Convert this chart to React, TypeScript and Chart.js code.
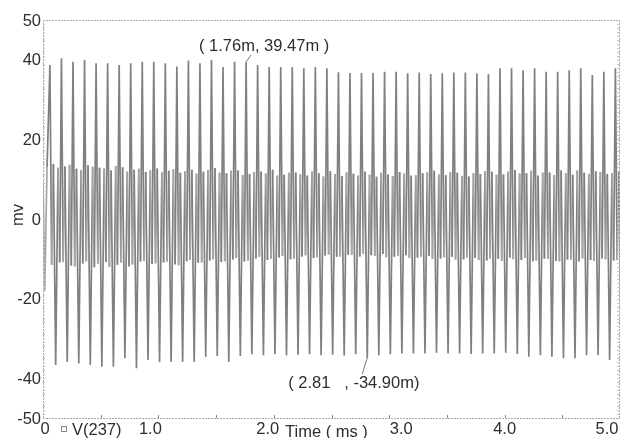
import React, { useEffect, useRef } from "react";
import { Chart, registerables } from "chart.js";
Chart.register(...registerables);

const xTickValues = [0, 1, 2, 3, 4, 5];
const xTickLabels = ["0", "1.0", "2.0", "3.0", "4.0", "5.0"];
const yTickValues = [50, 40, 20, 0, -20, -40, -50];
const yTickLabels = ["50", "40", "20", "0", "-20", "-40", "-50"];
const seriesName = "V(237)";
const xTitle = "Time ( ms )";
const yTitle = "mv";
const peakNote = "( 1.76m, 39.47m )";
const troughNote = "( 2.81   , -34.90m)";
const peakNoteTime = 1.76;
const peakNoteValue = 39.47;
const troughNoteTime = 2.81;
const troughNoteValue = -34.9;

const firstPeakTime = 0.06;
const period = 0.1;
const startTimes = [0, 0.015, 0.035];
const startValues = [9.5, -18, 13];

const peaks = [38.7, 40.4, 39.5, 40.0, 39.1, 39.1, 38.7, 39.1, 39.5, 39.5, 39.1, 38.3, 39.8, 39.1, 40.0, 38.2, 39.5, 39.47, 38.7, 38.2, 38.2, 38.2, 37.9, 38.2, 37.9, 36.9, 36.7, 36.7, 36.7, 37.0, 37.0, 36.6, 36.8, 36.4, 36.6, 36.8, 36.8, 36.6, 36.4, 37.9, 37.9, 37.4, 37.9, 37.0, 37.0, 37.4, 37.9, 36.2, 37.0, 37.9];
const troughs = [-36.7, -35.9, -36.3, -36.7, -37.1, -37.1, -35.0, -37.5, -35.4, -35.9, -35.9, -35.9, -35.9, -34.6, -34.4, -35.9, -34.4, -34.0, -34.2, -34.0, -34.3, -34.1, -34.0, -34.2, -34.1, -34.3, -34.0, -34.9, -34.2, -34.0, -33.8, -33.8, -33.8, -33.6, -33.8, -33.8, -33.9, -33.8, -33.8, -33.6, -33.9, -34.6, -34.2, -34.6, -35.0, -35.0, -34.2, -34.2, -35.4, -34.0];
const lowAfterPeak = [-11.5, -10.8, -11.9, -10.6, -11.2, -12.0, -10.9, -11.4, -10.5, -11.1, -10.7, -11.6, -10.3, -10.9, -10.1, -10.6, -9.8, -10.4, -9.5, -10.0, -9.3, -9.9, -9.1, -9.6, -8.9, -9.4, -9.0, -8.7, -9.3, -9.6, -9.2, -9.8, -9.4, -10.0, -9.6, -10.2, -9.7, -10.3, -9.9, -10.5, -10.1, -9.8, -10.4, -10.0, -10.6, -10.2, -9.9, -10.5, -10.1, -10.3];
const highBeforeTrough = [13.8, 13.2, 12.6, 13.5, 12.9, 12.2, 13.0, 12.4, 11.8, 12.7, 12.1, 11.6, 12.4, 11.9, 12.8, 11.5, 12.2, 11.3, 11.9, 12.4, 11.1, 11.7, 10.9, 11.5, 12.0, 10.8, 11.4, 11.9, 10.6, 11.2, 11.8, 10.9, 11.5, 12.1, 11.0, 11.6, 10.7, 11.3, 11.9, 11.2, 12.3, 11.5, 10.9, 11.7, 12.2, 11.1, 11.6, 12.0, 11.3, 11.8];
const highAfterTrough = [12.9, 13.6, 12.3, 13.1, 12.7, 13.3, 11.9, 12.6, 12.2, 11.7, 12.5, 12.0, 11.4, 12.3, 11.6, 12.1, 11.0, 11.8, 11.4, 10.9, 11.6, 11.2, 11.9, 10.7, 11.3, 11.7, 10.9, 11.1, 11.6, 10.8, 11.4, 11.0, 11.7, 11.2, 11.8, 10.8, 11.5, 12.0, 11.1, 11.9, 11.4, 12.1, 11.6, 11.0, 11.5, 12.2, 11.3, 11.8, 11.5, 11.0];
const lowBeforePeak = [-10.9, -11.7, -11.2, -12.1, -10.8, -11.5, -11.9, -10.7, -11.3, -10.9, -11.4, -10.6, -11.0, -10.4, -10.8, -10.2, -10.7, -9.9, -10.3, -9.7, -10.1, -9.4, -9.8, -9.2, -9.5, -9.0, -9.4, -9.1, -8.8, -9.5, -9.1, -9.7, -9.3, -9.9, -9.5, -10.1, -9.8, -10.4, -10.0, -9.7, -10.3, -10.6, -10.0, -10.5, -10.2, -10.7, -10.3, -9.9, -10.4, -10.2];

const labelFont = '16.5px "Liberation Sans", Arial, sans-serif';
const textColor = "#2e2e2e";
const frameColor = "#a8a8a8";
const spikeColor = "#808080";
const bandColor = "#a6a6a6";
const xLabelNudge = [2, -8, -6, 12, 0, -13];

function buildPoints() {
  const pts: { x: number; y: number }[] = [];
  startTimes.forEach((t, i) => pts.push({ x: t, y: startValues[i] }));
  peaks.forEach((p, k) => {
    const t0 = firstPeakTime + k * period;
    pts.push({ x: t0, y: p });
    pts.push({ x: t0 + 0.015, y: lowAfterPeak[k] });
    pts.push({ x: t0 + 0.03, y: highBeforeTrough[k] });
    pts.push({ x: t0 + 0.05, y: troughs[k] });
    if (k < peaks.length - 1) {
      pts.push({ x: t0 + 0.07, y: highAfterTrough[k] });
      pts.push({ x: t0 + 0.085, y: lowBeforePeak[k] });
    }
  });
  return pts;
}

const decorPlugin = {
  id: "decor",
  afterDraw(chart: any) {
    const { ctx, chartArea: a, scales } = chart;
    const xs = scales.x;
    const ys = scales.y;
    ctx.save();
    ctx.strokeStyle = frameColor;
    ctx.lineWidth = 1;
    ctx.setLineDash([2, 1]);
    ctx.beginPath();
    ctx.moveTo(a.left, a.top + 0.5);
    ctx.lineTo(a.right, a.top + 0.5);
    ctx.moveTo(a.left, a.bottom + 0.5);
    ctx.lineTo(a.right, a.bottom + 0.5);
    ctx.moveTo(a.left + 0.5, a.top);
    ctx.lineTo(a.left + 0.5, a.bottom);
    ctx.moveTo(a.right - 0.5, a.top);
    ctx.lineTo(a.right - 0.5, a.bottom);
    ctx.stroke();
    ctx.setLineDash([]);
    ctx.strokeStyle = "#c4c4c4";
    ctx.beginPath();
    for (let v = -50; v <= 50; v += 1) {
      const y = Math.round(ys.getPixelForValue(v)) + 0.5;
      ctx.moveTo(a.left, y);
      ctx.lineTo(a.left + 2, y);
      ctx.moveTo(a.right - 3, y);
      ctx.lineTo(a.right, y);
    }
    ctx.stroke();
    ctx.strokeStyle = "#888";
    ctx.beginPath();
    for (let v = 0.5; v < 5; v += 0.5) {
      const x = Math.round(xs.getPixelForValue(v)) + 0.5;
      ctx.moveTo(x, a.bottom);
      ctx.lineTo(x, a.bottom - 3);
    }
    ctx.stroke();

    ctx.fillStyle = textColor;
    ctx.font = labelFont;
    ctx.textAlign = "right";
    ctx.textBaseline = "middle";
    yTickValues.forEach((v, i) => {
      ctx.fillText(yTickLabels[i], a.left - 2, ys.getPixelForValue(v) + 1);
    });
    ctx.textAlign = "center";
    xTickValues.forEach((v, i) => {
      ctx.fillText(xTickLabels[i], xs.getPixelForValue(v) + xLabelNudge[i], a.bottom + 11);
    });
    ctx.strokeStyle = "#888";
    ctx.strokeRect(61.5, a.bottom + 8.5, 5, 5);
    ctx.textAlign = "left";
    ctx.fillText(seriesName, 72, a.bottom + 12);
    ctx.fillText(xTitle, 285, a.bottom + 14);
    ctx.save();
    ctx.translate(18, ys.getPixelForValue(1));
    ctx.rotate(-Math.PI / 2);
    ctx.textAlign = "center";
    ctx.fillText(yTitle, 0, 0);
    ctx.restore();
    const px = xs.getPixelForValue(peakNoteTime);
    const py = ys.getPixelForValue(peakNoteValue);
    ctx.strokeStyle = "#777";
    ctx.beginPath();
    ctx.moveTo(px + 5, py - 7);
    ctx.lineTo(px, py);
    ctx.stroke();
    ctx.textAlign = "center";
    ctx.fillText(peakNote, px + 18, py - 15);
    const tx = xs.getPixelForValue(troughNoteTime);
    const ty = ys.getPixelForValue(troughNoteValue);
    ctx.beginPath();
    ctx.moveTo(tx, ty);
    ctx.lineTo(tx - 5, ty + 16);
    ctx.stroke();
    ctx.textAlign = "left";
    ctx.fillText(troughNote, tx - 79, ty + 26);
    ctx.restore();
  },
};

export default function App() {
  const ref = useRef<HTMLCanvasElement | null>(null);
  useEffect(() => {
    if (!ref.current) return;
    const chart = new Chart(ref.current, {
      type: "line",
      data: {
        datasets: [
          {
            label: seriesName,
            data: buildPoints(),
            borderColor: bandColor,
            borderWidth: 1.7,
            pointRadius: 0,
            tension: 0,
            fill: false,
            segment: {
              borderColor: (c: any) =>
                Math.abs(c.p0.parsed.y) > 25 || Math.abs(c.p1.parsed.y) > 25 ? spikeColor : bandColor,
            },
          },
        ],
      },
      options: {
        animation: false,
        responsive: false,
        events: [],
        layout: { padding: { left: 43, right: 3, top: 20, bottom: 20 } },
        plugins: { legend: { display: false }, tooltip: { enabled: false } },
        scales: {
          x: { type: "linear", min: 0, max: 5, display: false },
          y: { type: "linear", min: -50, max: 50, display: false },
        },
      },
      plugins: [decorPlugin],
    });
    return () => chart.destroy();
  }, []);
  return (
    <div style={{ position: "fixed", left: 0, top: 0, width: 623, height: 438, background: "#fff" }}>
      <canvas ref={ref} width={623} height={438} style={{ display: "block" }} />
    </div>
  );
}
